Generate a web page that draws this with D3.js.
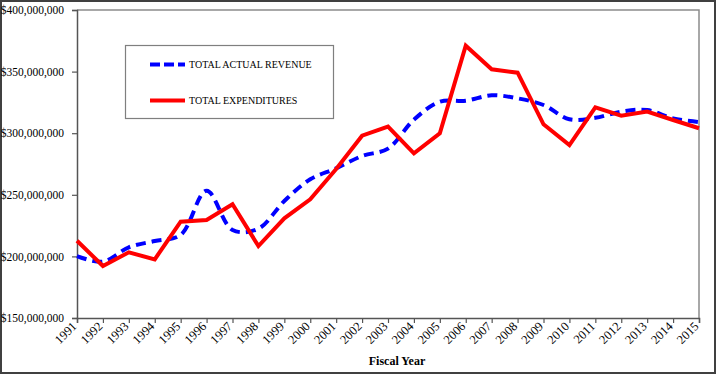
<!DOCTYPE html>
<html>
<head>
<meta charset="utf-8">
<script src="https://cdn.jsdelivr.net/npm/d3@7"></script>
<style>
    body { margin: 0; background: #fff; }
    svg { display: block; }
    text { font-family: "Liberation Serif", "Times New Roman", serif; fill: #000; }
</style>
</head>
<body>
<svg id="chart" width="716" height="374"></svg>
<script>
"use strict";

// fiscal years on the x axis
var years = d3.range(1991, 2016);

// values in millions of dollars
var revenue = [200.3, 195.7, 207.4, 212.5, 217.4, 253.3, 221.4, 222.5, 245.0, 262.6,
               271.5, 281.5, 287.5, 311.0, 325.6, 326.4, 330.8, 328.3, 322.9, 311.3,
               312.5, 317.5, 318.8, 312.0, 309.0];

var expenditures = [212.7, 192.2, 203.3, 197.6, 228.2, 229.5, 242.3, 208.4, 230.9, 246.3,
                    271.0, 298.0, 305.3, 283.7, 299.9, 371.0, 351.9, 349.1, 307.2, 290.4,
                    321.0, 314.2, 317.5, 310.7, 304.0];

var yTicks = [150, 200, 250, 300, 350, 400];

var seriesNames = ["TOTAL ACTUAL REVENUE", "TOTAL EXPENDITURES"];

var svg = d3.select("#chart");

// outer frame
svg.append("rect")
    .attr("x", 1).attr("y", 1)
    .attr("width", 714).attr("height", 372)
    .attr("fill", "none")
    .attr("stroke", "#404040")
    .attr("stroke-width", 2);

var plot = { left: 77, right: 699, top: 10, bottom: 318 };

var x = d3.scalePoint().domain(years).range([plot.left, plot.right]);
var y = d3.scaleLinear().domain([150, 400]).range([plot.bottom, plot.top]);

// plot area border (top and right are lighter grey)
svg.append("path")
    .attr("d", "M" + plot.left + "," + plot.top + "H" + plot.right + "V" + plot.bottom)
    .attr("fill", "none")
    .attr("stroke", "#8c8c8c")
    .attr("stroke-width", 1.5);

var fmt = function(d) { return "$" + d3.format(",")(d * 1000000); };

var yAxis = svg.append("g")
    .attr("transform", "translate(" + plot.left + ",0)")
    .call(d3.axisLeft(y).tickValues(yTicks).tickFormat(fmt).tickSize(5).tickPadding(8));

var xAxis = svg.append("g")
    .attr("transform", "translate(0," + plot.bottom + ")")
    .call(d3.axisBottom(x).tickSize(5).tickFormat(d3.format("d")));

[yAxis, xAxis].forEach(function(g) {
    g.attr("font-family", null);
    g.select(".domain").attr("stroke", "#555").attr("stroke-width", 1.5);
    g.selectAll(".tick line").attr("stroke", "#555").attr("stroke-width", 1.2);
    g.selectAll("text").attr("fill", "#000");
});

yAxis.selectAll("text").attr("font-size", 11.5);

xAxis.selectAll("text")
    .attr("font-size", 12.5)
    .attr("text-anchor", "end")
    .attr("dx", 0)
    .attr("dy", 0)
    .attr("y", 0)
    .attr("transform", "translate(0,9) rotate(-45)");

svg.append("text")
    .attr("x", 397)
    .attr("y", 365)
    .attr("text-anchor", "middle")
    .attr("font-weight", "bold")
    .attr("font-size", 12)
    .text("Fiscal Year");

// lines
var smooth = d3.line()
    .x(function(d, i) { return x(years[i]); })
    .y(function(d) { return y(d); })
    .curve(d3.curveCatmullRom.alpha(0.5));

var straight = d3.line()
    .x(function(d, i) { return x(years[i]); })
    .y(function(d) { return y(d); });

svg.append("path")
    .datum(revenue)
    .attr("d", smooth)
    .attr("fill", "none")
    .attr("stroke", "#0000ff")
    .attr("stroke-width", 4)
    .attr("stroke-dasharray", "10,6");

svg.append("path")
    .datum(expenditures)
    .attr("d", straight)
    .attr("fill", "none")
    .attr("stroke", "#ff0000")
    .attr("stroke-width", 4)
    .attr("stroke-linejoin", "miter");

// legend
var lg = svg.append("g");
lg.append("rect")
    .attr("x", 125.5).attr("y", 45.5)
    .attr("width", 208).attr("height", 73)
    .attr("fill", "#fff")
    .attr("stroke", "#7f7f7f")
    .attr("stroke-width", 1.2);

var legendRows = [
    { name: seriesNames[0], color: "#0000ff", dash: "10,4", y: 64.5 },
    { name: seriesNames[1], color: "#ff0000", dash: null, y: 100.5 }
];

legendRows.forEach(function(r) {
    lg.append("line")
        .attr("x1", 150).attr("x2", 185)
        .attr("y1", r.y).attr("y2", r.y)
        .attr("stroke", r.color)
        .attr("stroke-width", 4)
        .attr("stroke-dasharray", r.dash);
    lg.append("text")
        .attr("x", 189)
        .attr("y", r.y + 3.5)
        .attr("font-size", 10)
        .text(r.name);
});
</script>
</body>
</html>
